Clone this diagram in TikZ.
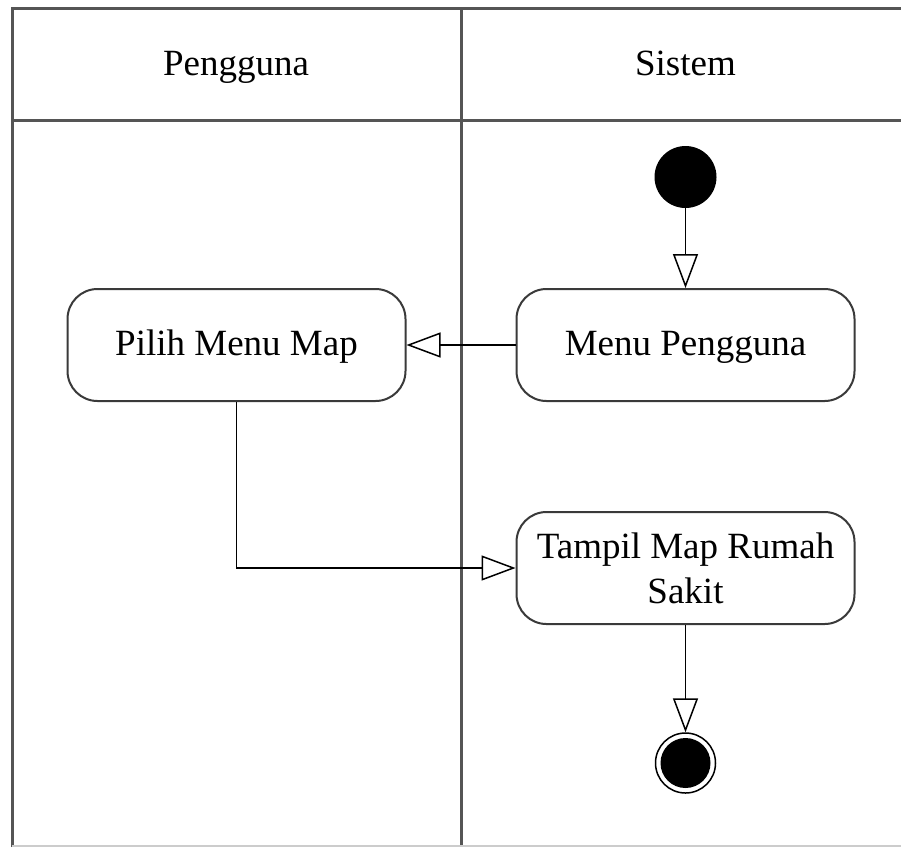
\documentclass[tikz,border=0pt]{standalone}
\usepackage{fontspec}
\setmainfont{Liberation Serif}
\usetikzlibrary{arrows.meta}
\definecolor{laneline}{HTML}{555555}
\definecolor{boxline}{HTML}{3A3A3A}
\begin{document}
\begin{tikzpicture}[x=1pt,y=-1pt,
  lane/.style={draw=laneline,line width=3pt},
  action/.style={draw=boxline,line width=2pt,rounded corners=30pt,fill=white,
    minimum width=338pt,minimum height=112pt,
    font=\fontsize{37}{45}\selectfont,inner sep=0pt},
  oneline/.style={text height=30pt,text depth=9pt},
  twolines/.style={align=center},
  title/.style={font=\fontsize{37}{45}\selectfont,anchor=base},
  flow/.style={draw=black,line width=1.5pt,
    -{Triangle[open,length=34pt,width=25pt,line width=1.5pt]}},
  startnode/.style={circle,fill=black,minimum size=62pt,inner sep=0pt},
  endring/.style={circle,draw=black,line width=1.5pt,fill=white,minimum size=60pt,inner sep=0pt},
]
\useasboundingbox (0,0) rectangle (901,847);
\fill[white] (0,0) rectangle (901,847);

% swimlane frame
\draw[lane] (12,847) -- (12,8) -- (901,8);
\draw[lane] (12,120) -- (901,120);
\draw[lane] (461,8) -- (461,847);
\draw[gray!40,line width=1.5pt] (12,846) -- (901,846);

% lane titles
\node[title] (lanePengguna) at (236,75) {Pengguna};
\node[title] (laneSistem) at (685.5,75) {Sistem};

% activity nodes
\node[startnode] (start) at (685.5,177) {};
\node[action,oneline] (menu) at (685.5,345) {Menu Pengguna};
\node[action,oneline] (pilih) at (236.5,345) {Pilih Menu Map};
\node[action,twolines] (tampil) at (685.5,568) {Tampil Map Rumah\\Sakit};
\node[endring] (final) at (685.5,763) {};
\fill[black] (final.center) circle (25pt);

% control flows
\draw[flow] (start) -- (menu);
\draw[flow] (menu) -- (pilih);
\draw[flow] (pilih.south) |- (tampil.west);
\draw[flow] (tampil) -- (final);
\end{tikzpicture}
\end{document}
